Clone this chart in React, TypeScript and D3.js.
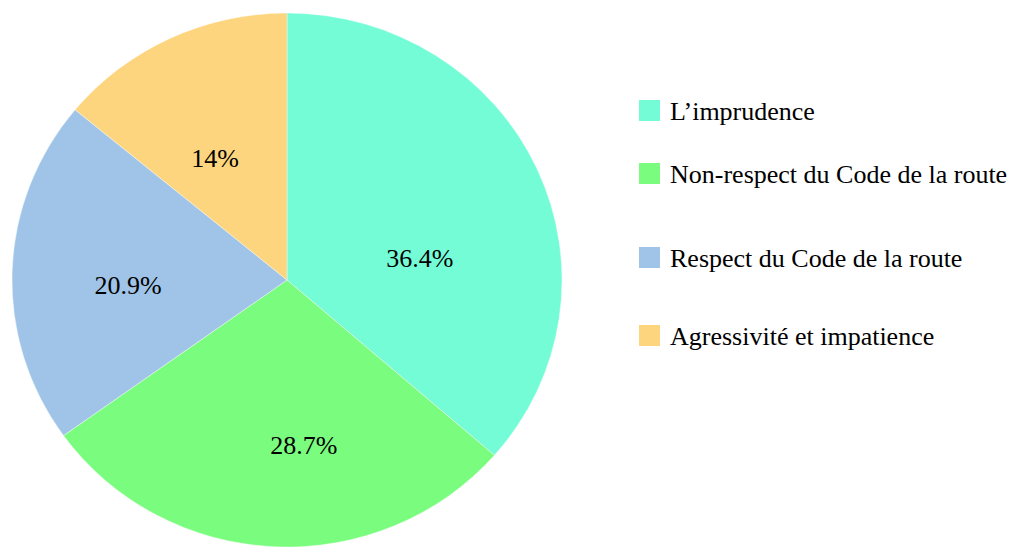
import { pie as d3pie, arc as d3arc } from 'd3';

// ---- data ----
const categories = [
  'L\u2019imprudence',
  'Non-respect du Code de la route',
  'Respect du Code de la route',
  'Agressivit\u00e9 et impatience',
];
const values = [36.4, 28.7, 20.9, 14];
const colors = ['#74fcd6', '#7afc7e', '#9fc4e7', '#fdd57e'];

// label placement inside each slice: [angle in degrees from 12 o'clock, fraction of radius]
const labelPolar: [number, number][] = [
  [80.4, 0.49],
  [174.3, 0.62],
  [268.1, 0.578],
  [330.2, 0.527],
];
// legend rows (top of swatch)
const legendTops = [100, 163, 247, 325];

const width = 1017;
const height = 547;
const cx = 287;
const cy = 280;
const rx = 275;
const ry = 267;

export default function App() {
  const data = categories.map((c, i) => ({ name: c, value: values[i], color: colors[i] }));

  const pie = d3pie<any>()
    .value((d) => d.value)
    .sort(null);
  const arc = d3arc<any>().innerRadius(0).outerRadius(rx);
  const slices = pie(data);

  const rad = (deg: number) => (deg * Math.PI) / 180;

  return (
    <svg
      width={width}
      height={height}
      style={{ display: 'block', position: 'absolute', left: 0, top: 0 }}
    >
      <g transform={`translate(${cx},${cy}) scale(1,${ry / rx})`}>
        {slices.map((s, i) => (
          <path key={i} d={arc(s) as string} fill={s.data.color} stroke="#ffffff" strokeWidth={0.4} />
        ))}
      </g>

      {/* percent labels */}
      {data.map((d, i) => (
        <text
          key={'p' + i}
          x={cx + Math.sin(rad(labelPolar[i][0])) * labelPolar[i][1] * rx}
          y={cy - Math.cos(rad(labelPolar[i][0])) * labelPolar[i][1] * ry + 9}
          textAnchor="middle"
          fill="#000"
          style={{ fontFamily: '"Liberation Serif"', fontSize: '26px' }}
        >
          {`${d.value}%`}
        </text>
      ))}

      {/* legend */}
      {data.map((d, i) => (
        <rect key={'r' + i} x={639} y={legendTops[i]} width={21} height={21} fill={d.color} />
      ))}
      {data.map((d, i) => (
        <text
          key={'t' + i}
          x={670}
          y={legendTops[i] + 20}
          fill="#000"
          style={{ fontFamily: '"Liberation Serif"', fontSize: '26px' }}
        >
          {d.name}
        </text>
      ))}
    </svg>
  );
}
